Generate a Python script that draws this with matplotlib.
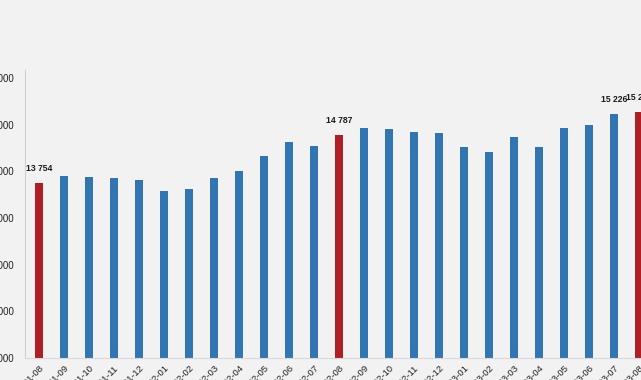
import matplotlib
matplotlib.use("Agg")
import matplotlib.pyplot as plt
import matplotlib.transforms as mtransforms
from matplotlib.ticker import FuncFormatter

# monthly values, 2021-08 .. 2023-08
months = ["2021-08", "2021-09", "2021-10", "2021-11", "2021-12",
          "2022-01", "2022-02", "2022-03", "2022-04", "2022-05", "2022-06", "2022-07",
          "2022-08", "2022-09", "2022-10", "2022-11", "2022-12",
          "2023-01", "2023-02", "2023-03", "2023-04", "2023-05", "2023-06", "2023-07",
          "2023-08"]
values = [13754, 13905, 13876, 13856, 13814,
          13571, 13621, 13864, 14000, 14322, 14621, 14551,
          14787, 14930, 14907, 14844, 14815,
          14517, 14417, 14731, 14518, 14932, 14982, 15226,
          15268]
highlight = ["2021-08", "2022-08", "2023-08"]
labelled = ["2021-08", "2022-08", "2023-07", "2023-08"]

blue = "#3175b3"
red = "#b01f24"
bg = "#f2f2f2"

plt.rcParams["font.family"] = ["Liberation Sans", "DejaVu Sans"]

W, H = 641, 380
fig = plt.figure(figsize=(W / 100, H / 100), dpi=100)
fig.patch.set_facecolor(bg)
ax = fig.add_axes([25 / W, 22 / H, (W - 25) / W, (358 - 70) / H])
ax.set_facecolor(bg)

x = list(range(len(months)))
colors = [red if m in highlight else blue for m in months]
ax.bar(x, values, width=0.34, color=colors, linewidth=0)

ax.set_xlim(-0.56, 24.08)
ax.set_ylim(10000, 16170)
ax.set_yticks([10000, 11000, 12000, 13000, 14000, 15000, 16000])
ax.yaxis.set_major_formatter(FuncFormatter(lambda v, p: f"{int(v):,}".replace(",", " ")))

# value labels on the highlighted months
for i, m in enumerate(months):
    if m in labelled:
        ax.annotate(f"{values[i]:,}".replace(",", " "), (i, values[i]),
                    xytext=(0, 7), textcoords="offset points", ha="center", va="bottom",
                    fontsize=6.2, fontweight="bold", color="#1a1a1a")

ax.set_xticks(x)
ax.set_xticklabels(months, rotation=45, ha="right", rotation_mode="anchor", fontsize=6.8, color="#333333")
offset = mtransforms.ScaledTranslation(9 / 72, -1 / 72, fig.dpi_scale_trans)
for lab in ax.get_xticklabels():
    lab.set_transform(lab.get_transform() + offset)

ax.tick_params(axis="both", length=0, colors="#222222")
ax.tick_params(axis="y", pad=8, labelsize=7)
ax.tick_params(axis="x", pad=4)
for s in ["top", "right"]:
    ax.spines[s].set_visible(False)
ax.spines["left"].set_color("#cfcfcf")
ax.spines["bottom"].set_color("#d9d9d9")

fig.savefig("out.png", dpi=100, facecolor=bg)
